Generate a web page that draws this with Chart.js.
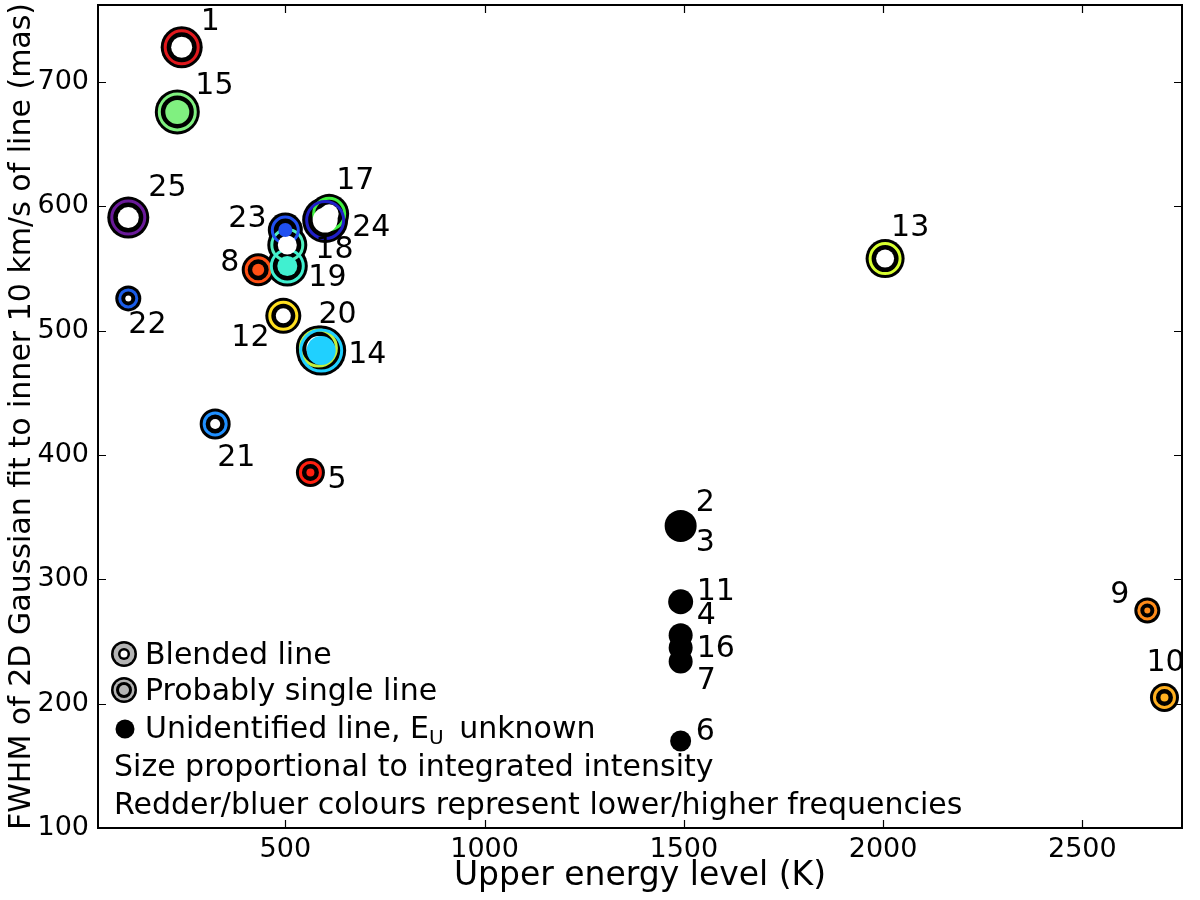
<!DOCTYPE html>
<html>
<head>
<meta charset="utf-8">
<script src="https://cdn.jsdelivr.net/npm/chart.js@4/dist/chart.umd.min.js"></script>
<style>
  html, body { margin: 0; padding: 0; background: #fff; }
  #wrap { width: 1200px; height: 900px; }
</style>
</head>
<body>
<div id="wrap"><canvas id="c" width="1200" height="900"></canvas></div>
<script>
// identified lines
const ids      = ['1', '5', '8', '9', '10', '12', '13', '20', '14', '15', '17', '18', '19', '21', '22', '23', '24', '25'];
const energy   = [240, 563, 432, 2663, 2706, 495, 2005, 583, 590, 229, 610, 505, 505, 324, 106, 500, 600, 106];
const fwhm     = [728, 386, 549, 275, 205, 512, 558, 486, 484, 676, 594, 569, 552, 425, 526, 581, 589, 591];
const blended  = [true, false, false, false, false, true, true, true, false, false, true, true, false, true, true, false, true, true];
// marker radius (size ~ integrated intensity)
const sizes    = [21, 14.5, 16.5, 13, 14.5, 18, 19.5, 22.5, 25, 22.5, 20, 20, 20.5, 15.5, 13, 17.5, 23, 21];
const colours  = ['#e0181c', '#ff2010', '#ff5014', '#ff8c1a', '#ffb020', '#ffe020', '#d8ff30', '#c0f040', '#20d0ff', '#80f080',
                  '#40f040', '#50f0c0', '#40f0d0', '#2090ff', '#1a5ce8', '#2050f0', '#2020c8', '#6a1a9a'];

// unidentified lines, E_U unknown
const unIds    = ['2', '11', '4', '16', '7', '6'];
const unEnergy = [1492, 1492, 1492, 1492, 1492, 1492];
const unFwhm   = [343, 282, 255, 245, 234, 170];
const unSizes  = [16, 12.5, 12, 12, 12, 10.5];

const xTicks = [500, 1000, 1500, 2000, 2500];
const yTicks = [100, 200, 300, 400, 500, 600, 700];

// label offsets in px from marker centre
const labelOff = {
  '1': [19, -25], '15': [18, -26], '25': [20, -29], '22': [0, 27], '21': [2, 34], '5': [17, 8],
  '8': [-38, -7], '23': [-57, -11], '18': [28, 5], '19': [21, 12], '17': [7, -33], '24': [27, 8],
  '12': [-52, 22], '20': [0, -33], '14': [27, 5], '13': [6, -30], '9': [-37, -15], '10': [-18, -34],
  '2': [15, -23], '3': [15, 17], '11': [16, -10], '4': [16, -19], '16': [16, 1], '7': [16, 20], '6': [15, -9]
};

const FONT = 'DejaVu Sans';
const TXT = '30px "' + FONT + '"';
const pts = energy.map((e, i) => ({ x: e, y: fwhm[i] }));
const unPts = unEnergy.map((e, i) => ({ x: e, y: unFwhm[i] }));

const annot = {
  id: 'annot',
  afterDatasetsDraw(chart) {
    const ctx = chart.ctx, xs = chart.scales.x, ys = chart.scales.y;
    const ca = chart.chartArea;
    ctx.save();
    ctx.fillStyle = '#000';
    ctx.font = TXT;
    ctx.textAlign = 'left';
    ctx.textBaseline = 'middle';
    const put = (lab, x, y) => {
      const o = labelOff[lab] || [15, 0];
      ctx.fillText(lab, xs.getPixelForValue(x) + o[0], ys.getPixelForValue(y) + o[1]);
    };
    ids.forEach((lab, i) => put(lab, energy[i], fwhm[i]));
    unIds.forEach((lab, i) => put(lab, unEnergy[i], unFwhm[i]));
    put('3', unEnergy[0], unFwhm[0]);

    // legend
    const lx = ca.left + 26;
    const disc = (x, y, r, c) => { ctx.beginPath(); ctx.arc(x, y, r, 0, Math.PI * 2); ctx.fillStyle = c; ctx.fill(); };
    disc(lx, 654, 13, '#000'); disc(lx, 654, 10.5, '#b4b4b4'); disc(lx, 654, 6, '#000'); disc(lx, 654, 3.5, '#fff');
    disc(lx, 690, 13, '#000'); disc(lx, 690, 10.5, '#b4b4b4'); disc(lx, 690, 8, '#000'); disc(lx, 690, 5, '#b4b4b4');
    disc(lx + 1, 729, 9.5, '#000');
    ctx.fillStyle = '#000';
    ctx.font = TXT;
    const tx = lx + 21;
    ctx.fillText('Blended line', tx, 656);
    ctx.fillText('Probably single line', tx, 692);
    const s = 'Unidentified line, E';
    ctx.fillText(s, tx, 730);
    const w = ctx.measureText(s).width;
    ctx.font = '20px "' + FONT + '"';
    ctx.fillText('U', tx + w, 739);
    const w2 = ctx.measureText('U').width;
    ctx.font = TXT;
    ctx.fillText(' unknown', tx + w + w2 + 6, 730);
    ctx.fillText('Size proportional to integrated intensity', ca.left + 16, 768);
    ctx.fillText('Redder/bluer colours represent lower/higher frequencies', ca.left + 16, 806);

    // frame and inward ticks
    ctx.strokeStyle = '#000';
    ctx.lineWidth = 2;
    ctx.strokeRect(ca.left, ca.top, ca.right - ca.left, ca.bottom - ca.top);
    ctx.lineWidth = 1.2;
    ctx.beginPath();
    xTicks.forEach(v => {
      const px = Math.round(xs.getPixelForValue(v)) + 0.5;
      ctx.moveTo(px, ca.bottom); ctx.lineTo(px, ca.bottom - 8);
      ctx.moveTo(px, ca.top); ctx.lineTo(px, ca.top + 8);
    });
    yTicks.forEach(v => {
      const py = Math.round(ys.getPixelForValue(v)) + 0.5;
      ctx.moveTo(ca.left, py); ctx.lineTo(ca.left + 8, py);
      ctx.moveTo(ca.right, py); ctx.lineTo(ca.right - 8, py);
    });
    ctx.stroke();
    ctx.restore();
  }
};

new Chart(document.getElementById('c'), {
  type: 'scatter',
  data: {
    datasets: [
      { // centres: white for blended, coloured for single
        data: pts, order: 1,
        pointRadius: sizes.map(r => Math.max(r - 10.5, 3)),
        pointBackgroundColor: blended.map((b, i) => b ? '#ffffff' : colours[i]),
        pointBorderWidth: 0
      },
      { // coloured rings
        data: pts, order: 2,
        pointRadius: sizes.map(r => r - 4.5),
        pointBackgroundColor: 'rgba(0,0,0,0)',
        pointBorderColor: colours,
        pointBorderWidth: 3
      },
      { // black discs
        data: pts, order: 3,
        pointRadius: sizes,
        pointBackgroundColor: '#000',
        pointBorderWidth: 0
      },
      { // unidentified
        data: unPts, order: 4,
        pointRadius: unSizes,
        pointBackgroundColor: '#000',
        pointBorderWidth: 0
      }
    ]
  },
  options: {
    responsive: false,
    animation: false,
    events: [],
    layout: { autoPadding: false, padding: { left: 0, right: 18, top: 5, bottom: 0 } },
    plugins: { legend: { display: false }, tooltip: { enabled: false } },
    scales: {
      x: {
        type: 'linear', min: 30, max: 2750,
        afterBuildTicks: s => { s.ticks = xTicks.map(v => ({ value: v })); },
        afterFit: s => { s.height = 72; s.paddingLeft = 0; s.paddingRight = 0; },
        grid: { display: false, drawTicks: false },
        border: { display: false },
        ticks: { color: '#000', font: { family: FONT, size: 27 }, padding: 6, maxRotation: 0, callback: v => String(v) },
        title: { display: true, text: 'Upper energy level (K)', color: '#000', font: { family: FONT, size: 33 }, padding: { top: 0 } }
      },
      y: {
        type: 'linear', min: 100, max: 762,
        afterBuildTicks: s => { s.ticks = yTicks.map(v => ({ value: v })); },
        afterFit: s => { s.width = 98; s.paddingTop = 0; s.paddingBottom = 0; },
        grid: { display: false, drawTicks: false },
        border: { display: false },
        ticks: { color: '#000', font: { family: FONT, size: 27 }, padding: 9, callback: v => String(v) },
        title: { display: true, text: 'FWHM of 2D Gaussian fit to inner 10 km/s of line (mas)', color: '#000', font: { family: FONT, size: 30 }, padding: { bottom: 0 } }
      }
    }
  },
  plugins: [annot]
});
</script>
</body>
</html>
